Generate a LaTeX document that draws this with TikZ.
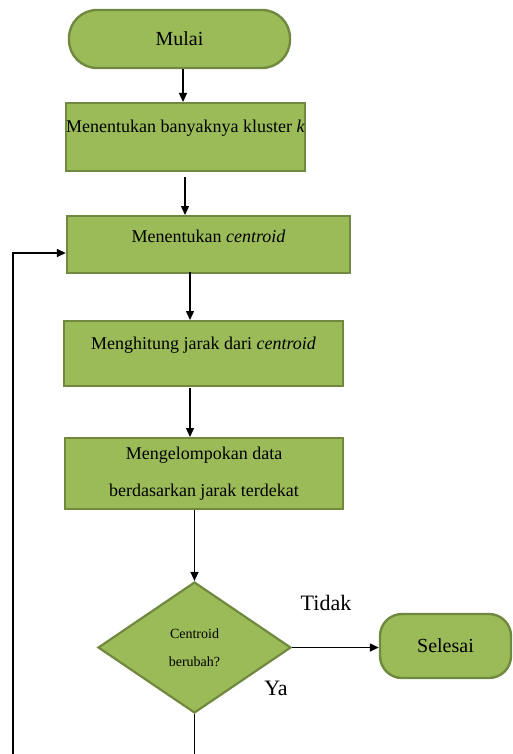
\documentclass[tikz,border=0pt]{standalone}
\usepackage{fontspec}
\setmainfont{Liberation Serif}
\usetikzlibrary{arrows.meta,shapes.geometric,calc}
\definecolor{ogreen}{HTML}{9BBB59}
\definecolor{oborder}{HTML}{71893F}
\tikzset{
  box/.style={draw=oborder, line width=2.4pt, fill=ogreen, rectangle, inner xsep=0pt, inner ysep=0pt, anchor=north, font=\fontsize{18}{21}\selectfont},
  term/.style={draw=oborder, line width=2.4pt, fill=ogreen, rectangle, inner sep=0pt, font=\fontsize{20}{24}\selectfont},
  decide/.style={draw=oborder, line width=2.2pt, fill=ogreen, diamond, inner sep=0pt, minimum width=193pt, minimum height=131pt, align=center, font=\fontsize{14}{28}\selectfont},
  arr/.style={line width=1.4pt, -{Triangle[width=8pt,length=9pt]}},
  ln/.style={line width=1.4pt},
  lbl/.style={inner sep=0pt, font=\fontsize{22}{26}\selectfont}
}
\begin{document}
\begin{tikzpicture}[x=1pt,y=-1pt]
\useasboundingbox (0,0) rectangle (512,754);
\node[term, rounded corners=28pt, minimum width=221pt, minimum height=58pt] (mulai) at (179.5,39) {Mulai};
\node[box, minimum width=239pt, text height=29pt, text depth=39pt] (b1) at (185.5,102) {Menentukan banyaknya kluster \textit{k}};
\node[box, minimum width=283pt, text height=26pt, text depth=31pt] (b2) at (208.5,215) {Menentukan \textit{centroid}};
\node[box, minimum width=279pt, text height=28pt, text depth=37pt] (b3) at (203.5,320) {Menghitung jarak dari \textit{centroid}};
\node[box, minimum width=278pt, minimum height=71pt, anchor=north, align=center, font=\fontsize{18}{37}\selectfont] (b4) at (204,437) {Mengelompokan data\\berdasarkan jarak terdekat};
\node[decide] (dec) at (194.5,647.5) {Centroid\\berubah?};
\node[term, rounded corners=22pt, minimum width=131pt, minimum height=64pt] (sel) at (445.5,646) {Selesai};
\node[lbl] (tidak) at (326,603) {Tidak};
\node[lbl] (ya) at (276,688) {Ya};
% connectors
\draw[arr] ([xshift=3.5pt]mulai.south) -- ([xshift=3.5pt]mulai.south |- b1.north);
\coordinate (c1) at (185,170);
\draw[arr, shorten <=7pt] (c1) -- (c1 |- b2.north);
\coordinate (c2) at (190,272);
\draw[arr] (c2) -- (c2 |- b3.north);
\coordinate (c3) at (190,385);
\draw[arr, shorten <=3pt] (c3) -- (c3 |- b4.north);
\draw[arr] (b4.south -| dec.north) -- (dec.north);
\draw[arr] (dec.east) -- (dec.east -| sel.west);
\coordinate (yaend) at (197,754);
\draw[ln] (dec.south) -- (dec.south |- yaend);
\coordinate (loopA) at (13,754);
\coordinate (loopB) at (13,253);
\draw[arr] (loopA) -- (loopB) -- (loopB -| b2.west);
\end{tikzpicture}
\end{document}
